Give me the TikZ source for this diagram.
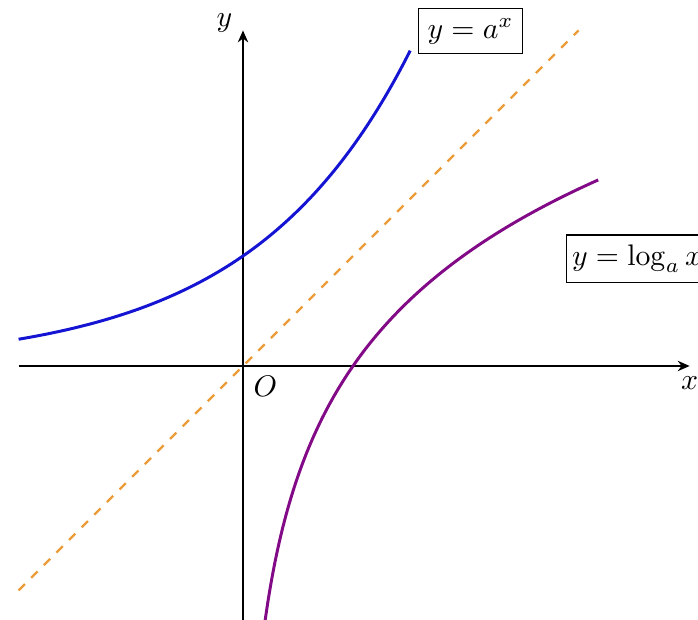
\documentclass[tikz,border=0pt]{standalone}
\usetikzlibrary{arrows.meta}
\definecolor{expblue}{RGB}{20,20,210}
\definecolor{logviolet}{RGB}{130,10,135}
\definecolor{diagorange}{RGB}{235,155,55}
\begin{document}
\begin{tikzpicture}[x=1.3cm,y=1.3cm,
  axis/.style={line width=0.5pt,-{Stealth[length=4pt,width=3.5pt]}},
  expcurve/.style={expblue,line width=1pt},
  logcurve/.style={logviolet,line width=1pt},
  diagline/.style={diagorange,dashed,line width=0.8pt},
  lbl/.style={draw,line width=0.5pt,fill=white,inner ysep=3.3pt}]
\useasboundingbox (-2.209,-2.309) rectangle (4.136,3.327);
% axes
\coordinate (xs) at (-2.04,0);
\coordinate (xe) at (4.06,0);
\coordinate (ys) at (0,-2.33);
\coordinate (ye) at (0,3.05);
\draw[axis] (xs) -- (xe) node[below] (xl) {$x$};
\draw[axis] (ys) -- (ye) node[left,yshift=2.5pt] (yl) {$y$};
\node[below right] (O) at (0,0) {$O$};
% y = x
\coordinate (ds) at (-2.04,-2.04);
\coordinate (de) at (3.05,3.05);
\draw[diagline] (ds) -- (de);
% y = 2^x
\draw[expcurve] plot[domain=-2.04:1.52,samples=80,smooth] (\x,{2^(\x)});
% y = log_2 x
\draw[logcurve] plot[domain=0.2:3.23,samples=120,smooth] (\x,{ln(\x)/ln(2)});
% labels
\node[lbl,inner xsep=3pt] (la) at (2.068,3.045) {$y=a^x$};
\node[lbl,inner xsep=1.8pt,anchor=west] (lb) at (2.936,0.973) {$y=\log_a x$};
\end{tikzpicture}
\end{document}
